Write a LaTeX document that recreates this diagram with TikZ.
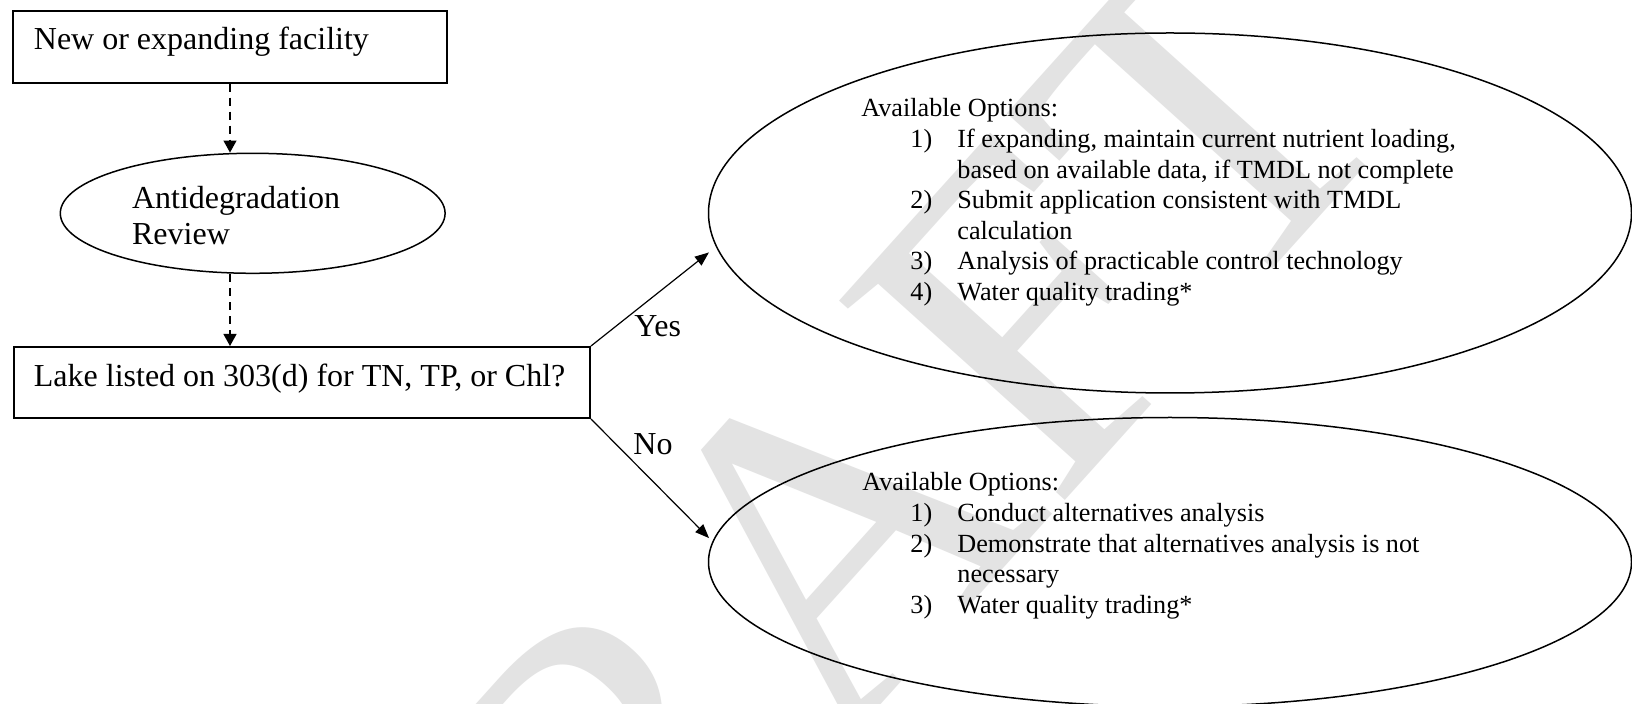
\documentclass[tikz,border=0pt]{standalone}
\usepackage{fontspec}
\setmainfont{Liberation Serif}
\usetikzlibrary{arrows.meta,shapes.geometric}
\begin{document}
\begin{tikzpicture}[x=0.5pt,y=-0.5pt,
  bigtext/.style={font=\fontsize{16pt}{18.5pt}\selectfont, inner sep=0pt, anchor=base west},
  smalltext/.style={font=\fontsize{13.1pt}{15.3pt}\selectfont, inner sep=0pt, anchor=base west},
  boxst/.style={draw, rectangle, line width=1pt, inner sep=0pt, anchor=north west},
  ellst/.style={draw, ellipse, line width=0.75pt, inner sep=0pt},
  dasharrow/.style={dash pattern=on 4pt off 3pt, line width=0.6pt, -{Triangle[length=6pt,width=6.5pt]}},
  arr/.style={line width=0.6pt, -{Triangle[length=7pt,width=5.5pt]}},
  watermark/.style={text=black!11, font=\fontsize{230pt}{230pt}\selectfont, inner sep=0pt}
]
\useasboundingbox (0,0) rectangle (1632,704);
\fill[white] (0,0) rectangle (1632,704);

% watermark (behind everything)
\node[watermark, rotate=48] (wm) at (797,572) {DRAFT};

% shapes
\node[boxst, minimum width=216.7pt, minimum height=35.85pt] (box1) at (12.3,10) {};
\node[ellst, minimum width=192.4pt, minimum height=60pt] (ell1) at (252.7,213.3) {};
\node[boxst, minimum width=288.25pt, minimum height=35.5pt] (box2) at (12.5,346) {};
\node[ellst, minimum width=461.5pt, minimum height=180pt] (ellA) at (1170,213) {};
\node[ellst, minimum width=461.5pt, minimum height=144.5pt] (ellB) at (1170,562) {};

% texts
\node[bigtext] (t1) at (33.5,50) {New or expanding facility};
\node[bigtext] (t2) at (131.7,208.3) {Antidegradation};
\node[bigtext] (t3) at (131.7,245) {Review};
\node[bigtext] (t4) at (33.5,387) {Lake listed on 303(d) for TN, TP, or Chl?};
\node[bigtext] (yes) at (634,337) {Yes};
\node[bigtext] (no) at (633,455) {No};

\node[smalltext] (optA) at (861,117) {\begin{tabular}[t]{@{}p{24.5pt}@{}p{23.5pt}@{}l@{}}
\multicolumn{3}{@{}l@{}}{Available Options:}\\
 & 1) & If expanding, maintain current nutrient loading,\\
 & & based on available data, if TMDL not complete\\
 & 2) & Submit application consistent with TMDL\\
 & & calculation\\
 & 3) & Analysis of practicable control technology\\
 & 4) & Water quality trading*
\end{tabular}};

\node[smalltext] (optB) at (862,491) {\begin{tabular}[t]{@{}p{24pt}@{}p{23.5pt}@{}l@{}}
\multicolumn{3}{@{}l@{}}{Available Options:}\\
 & 1) & Conduct alternatives analysis\\
 & 2) & Demonstrate that alternatives analysis is not\\
 & & necessary\\
 & 3) & Water quality trading*
\end{tabular}};

% connectors
\draw[dasharrow] (box1.south) -- (box1.south |- ell1.north);
\draw[dasharrow] (box1.south |- ell1.south) -- (box1.south |- box2.north);
\draw[arr] (box2.north east) -- ([xshift=-5pt]ellA.185);
\draw[arr] (box2.south east) -- ([xshift=-2.5pt]ellB.177);
\end{tikzpicture}
\end{document}
